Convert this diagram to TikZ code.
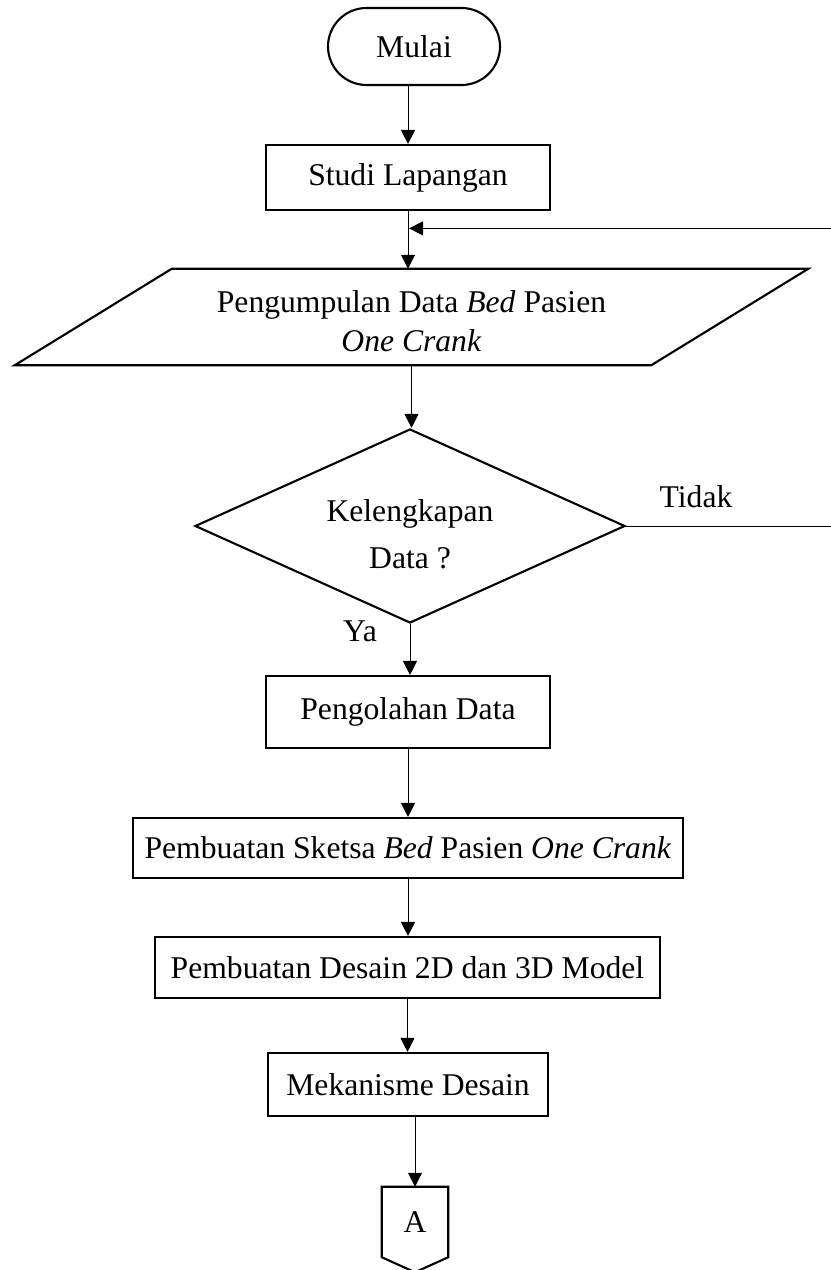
\documentclass[tikz,border=0pt]{standalone}
\usepackage{fontspec}
\setmainfont{Liberation Serif}
\usetikzlibrary{shapes.geometric,shapes.misc,arrows.meta,calc}

\begin{document}
\begin{tikzpicture}[x=0.03cm, y=-0.03cm,
    font=\fontsize{27}{33.3}\selectfont,
    garis/.style={line width=1.8pt, line join=miter},
    kotak/.style={draw, garis, rectangle, align=center, inner sep=0pt},
    terminal/.style={draw, garis, rounded rectangle, inner sep=0pt},
    keputusan/.style={draw, garis, diamond, aspect=2.2, inner sep=0pt},
    panah/.style={-{Triangle[length=0.42cm, width=0.42cm]}, line width=0.8pt}]
    \useasboundingbox (0,0) rectangle (830,1270);

    % Simpul diagram alir
    \node[terminal, minimum width=5.16cm, minimum height=2.31cm] (mulai) at (414,46.5) {Mulai};
    \node[kotak, minimum width=8.52cm, minimum height=1.95cm] (studi) at (408,177.5) {Studi Lapangan};

    % Jajaran genjang data masukan
    \node[minimum width=19.08cm, minimum height=2.88cm, inner sep=0pt] (kumpul) at (411.5,317) {};
    \draw[garis] ($(kumpul.south west)+(-78.5,0)$) -- ($(kumpul.north west)+(78.5,0)$)
        -- ($(kumpul.north east)+(78.5,0)$) -- ($(kumpul.south east)+(-78.5,0)$) -- cycle;
    \node[align=center, inner sep=0pt] (kumpulteks) at (411.5,321)
        {Pengumpulan Data \textit{Bed} Pasien\\ \textit{One Crank}};

    \node[keputusan, minimum width=12.9cm, minimum height=5.82cm] (cek) at (410,526) {};
    \node[align=center, inner sep=0pt, font=\fontsize{27}{40}\selectfont] (cekteks) at (410,534)
        {Kelengkapan\\ Data ?};

    \node[kotak, minimum width=8.52cm, minimum height=2.16cm] (olah) at (408,712) {Pengolahan Data};
    \node[kotak, minimum width=16.5cm, minimum height=1.8cm] (sketsa) at (408,848)
        {Pembuatan Sketsa \textit{Bed} Pasien \textit{One Crank}};
    \node[kotak, minimum width=15.15cm, minimum height=1.83cm] (desain) at (407.5,967.5)
        {Pembuatan Desain 2D dan 3D Model};
    \node[kotak, minimum width=8.4cm, minimum height=1.89cm] (mekanisme) at (408,1084.5) {Mekanisme Desain};

    % Penghubung halaman
    \node[minimum width=1.98cm, minimum height=2.1cm, inner sep=0pt] (konektor) at (415,1222) {A};
    \draw[garis] (konektor.south west) -- (konektor.north west)
        -- (konektor.north east) -- (konektor.south east) -- ($(konektor.south)+(0,15)$) -- cycle;

    % Label cabang
    \node[anchor=base] (tidak) at (696,507) {Tidak};
    \node[anchor=base] (ya) at (360,641) {Ya};

    % Garis alir
    \draw[panah] (mulai.south -| studi.north) -- (studi.north);
    \foreach \a/\b in {studi/kumpul, kumpul/cek, cek/olah, olah/sketsa, sketsa/desain, desain/mekanisme} {
        \draw[panah] (\a.south) -- (\a.south |- \b.north);
    }
    \draw[panah] (mekanisme.south -| konektor.north) -- (konektor.north);

    % Kembali bila data belum lengkap
    \coordinate (masuk) at ($(studi.south)!0.3!(kumpul.north)$);
    \coordinate (tepi) at (834,0);
    \draw[panah] (cek.east) -- (cek.east -| tepi) -- (masuk -| tepi) -- (masuk);
\end{tikzpicture}
\end{document}
